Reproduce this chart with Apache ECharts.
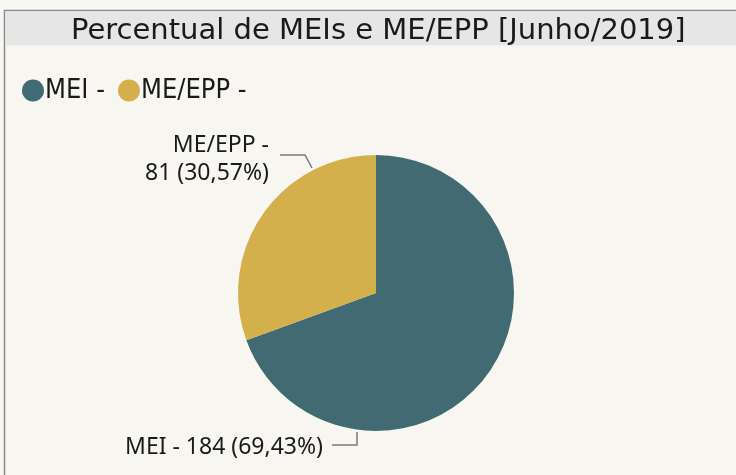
<!DOCTYPE html>
<html>
<head>
<meta charset="utf-8">
<script src="https://cdn.jsdelivr.net/npm/echarts@6/dist/echarts.min.js"></script>
<style>
  html, body { margin: 0; padding: 0; background: #f8f6f1; }
  #chart { width: 736px; height: 475px; }
</style>
</head>
<body>
<div id="chart"></div>
<script>
var categories = ['MEI', 'ME/EPP'];
var values = [184, 81];
var colors = ['#426a72', '#d4b04c'];

var chart = echarts.init(document.getElementById('chart'));

var pieData = categories.map(function (c, i) {
  return { name: c, value: values[i], itemStyle: { color: colors[i] } };
});

// label placement copied from the reference layout
var labelSpots = [
  { x: 323, y: 447, line: [[332, 445], [357, 445], [357, 432]] },
  { x: 269, y: 159, line: [[280, 155], [305, 155], [312, 168]] }
];

chart.setOption({
  backgroundColor: '#f8f6f1',
  animation: false,
  graphic: [
    {
      type: 'rect',
      shape: { x: 4.5, y: 10.5, width: 740, height: 480 },
      style: { fill: '#f8f6f1', stroke: '#8a8a8a', lineWidth: 1.5 },
      z: -10
    },
    {
      type: 'rect',
      shape: { x: 5.5, y: 11.5, width: 735, height: 34 },
      style: { fill: '#e6e6e6' },
      z: -9
    }
  ],
  title: {
    text: 'Percentual de MEIs e ME/EPP [Junho/2019]',
    left: 66,
    top: 12,
    textStyle: {
      fontFamily: 'DejaVu Sans',
      fontSize: 29,
      fontWeight: 'normal',
      color: '#1a1a1a'
    }
  },
  legend: {
    left: 17,
    top: 72,
    icon: 'circle',
    itemWidth: 22,
    itemHeight: 22,
    itemGap: 13,
    data: categories,
    formatter: function (name) { return name + ' -'; },
    textStyle: {
      fontFamily: 'DejaVu Sans Condensed',
      fontSize: 27,
      color: '#1a1a1a',
      padding: [0, 0, 0, -4]
    }
  },
  series: [{
    type: 'pie',
    center: [376, 293],
    radius: 138,
    startAngle: 90,
    clockwise: true,
    data: pieData,
    label: {
      show: true,
      position: 'outside',
      fontFamily: 'Noto Sans',
      fontSize: 23,
      color: '#1a1a1a',
      lineHeight: 28,
      overflow: 'none',
      formatter: function (p) {
        var pct = p.percent.toFixed(2).replace('.', ',');
        if (p.dataIndex === 0) return p.name + ' - ' + p.value + ' (' + pct + '%)';
        return p.name + ' -\n' + p.value + ' (' + pct + '%)';
      }
    },
    labelLine: {
      show: true,
      lineStyle: { color: '#7a7a7a', width: 1.5 }
    },
    labelLayout: function (params) {
      var s = labelSpots[params.dataIndex];
      return {
        x: s.x,
        y: s.y,
        align: 'right',
        verticalAlign: 'middle',
        labelLinePoints: s.line
      };
    }
  }]
});
</script>
</body>
</html>
